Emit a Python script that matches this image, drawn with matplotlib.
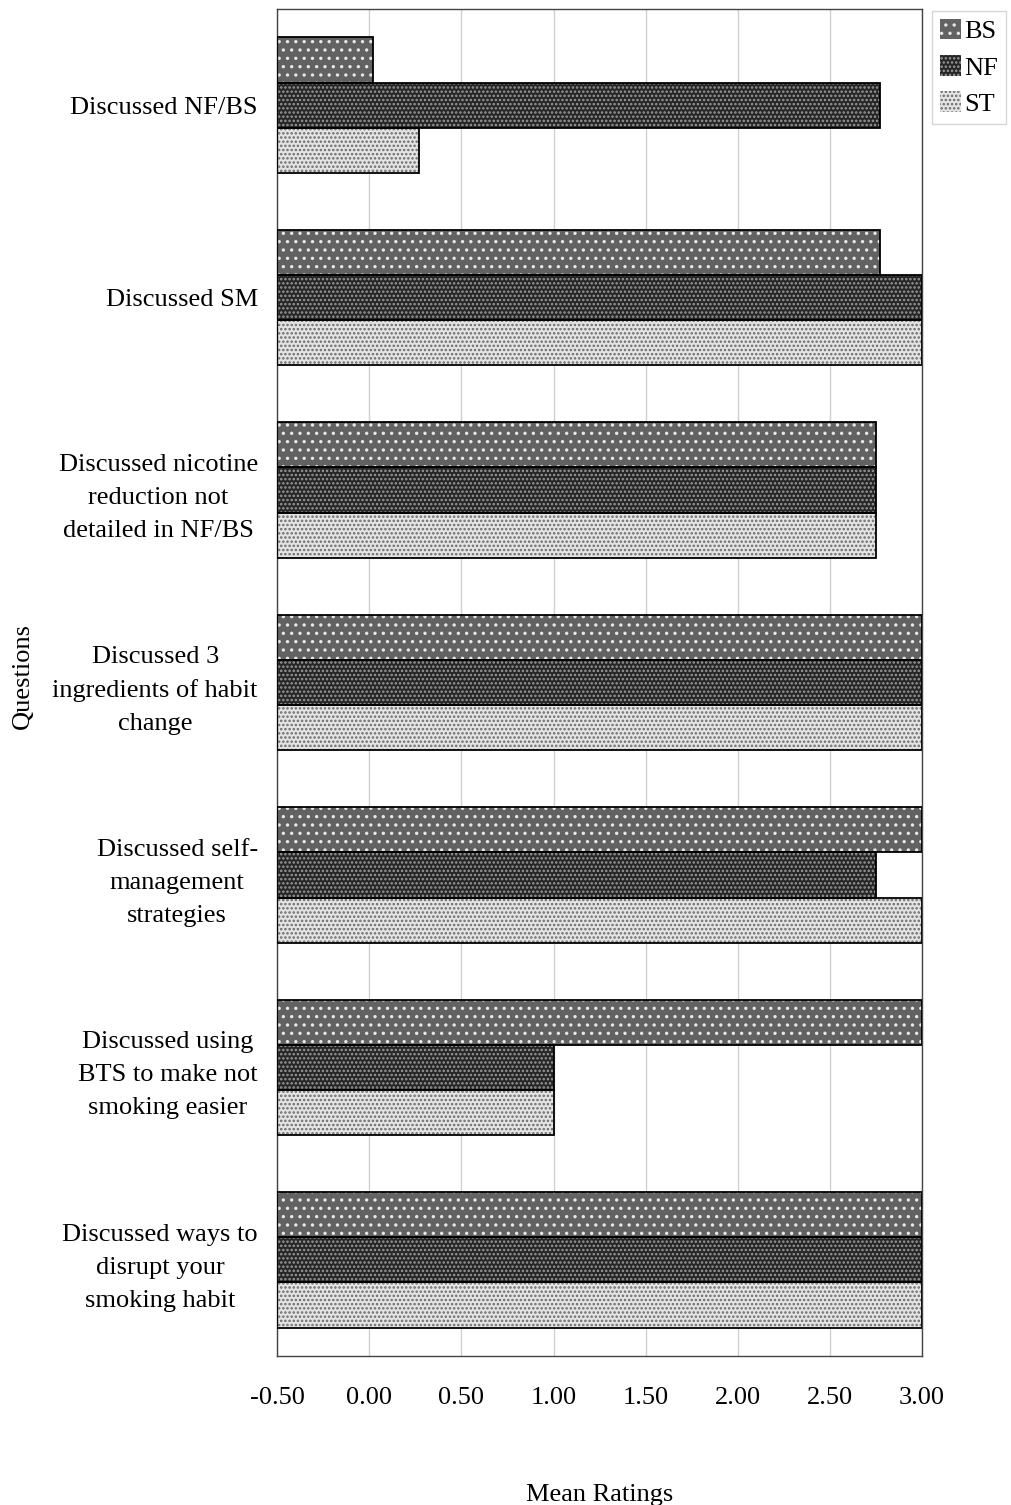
import numpy as np
import matplotlib
matplotlib.use("Agg")
import matplotlib.pyplot as plt

plt.rcParams['font.family'] = ['Liberation Serif', 'DejaVu Serif']
plt.rcParams['hatch.linewidth'] = 1.2

questions = [
    'Discussed NF/BS',
    'Discussed SM',
    'Discussed nicotine\nreduction not\ndetailed in NF/BS',
    'Discussed 3\ningredients of habit\nchange',
    'Discussed self-\nmanagement\nstrategies',
    'Discussed using\nBTS to make not\nsmoking easier',
    'Discussed ways to\ndisrupt your\nsmoking habit',
]
series = ['BS', 'NF', 'ST']
bs = [0.02, 2.77, 2.75, 3.00, 3.00, 3.00, 3.00]
nf = [2.77, 3.00, 2.75, 3.00, 2.75, 1.00, 3.00]
st = [0.27, 3.00, 2.75, 3.00, 3.00, 1.00, 3.00]
xticks = [-0.5, 0.0, 0.5, 1.0, 1.5, 2.0, 2.5, 3.0]

base = -0.5
styles = {
    'BS': dict(color='#626262', hatch='..', hcol='#e8e8e8'),
    'NF': dict(color='#262626', hatch='....', hcol='#9a9a9a'),
    'ST': dict(color='#e4e4e4', hatch='....', hcol='#6a6a6a'),
}

fig = plt.figure(figsize=(10.12, 15.05), dpi=100)
ax = fig.add_axes([0.274, 0.099, 0.637, 0.895])

y = np.arange(len(questions))
h = 0.235
handles = []
for i, (name, vals) in enumerate(zip(series, [bs, nf, st])):
    s = styles[name]
    widths = np.array(vals) - base
    pos = y + (i - 1) * h
    b = ax.barh(pos, widths, height=h, left=base, color=s['color'],
                edgecolor=s['hcol'], hatch=s['hatch'], linewidth=0, zorder=2)
    ax.barh(pos, widths, height=h, left=base, fill=False,
            edgecolor='black', linewidth=1.3, zorder=3)
    handles.append(b)

ax.set_xlim(-0.5, 3.0)
ax.set_ylim(len(questions) - 0.5, -0.5)
ax.set_xticks(xticks)
ax.set_xticklabels(['%.2f' % v for v in xticks], fontsize=19)
ax.set_yticks(y)
ax.set_yticklabels(questions, fontsize=19, multialignment='center',
                   linespacing=1.65)
ax.tick_params(length=0, pad=14)
ax.tick_params(axis='x', pad=22)
ax.xaxis.grid(True, color='#d0d0d0', linewidth=1, zorder=0)
ax.set_axisbelow(True)
for sp in ax.spines.values():
    sp.set_linewidth(1.0)
    sp.set_color('#444444')

ax.set_xlabel('Mean Ratings', fontsize=19, labelpad=54)
ax.set_ylabel('Questions', fontsize=19)
ax.yaxis.set_label_coords(-0.378, 0.505)

leg = fig.legend(handles, series, loc='upper right',
                 bbox_to_anchor=(0.999, 0.996), fontsize=19, frameon=True,
                 fancybox=False, edgecolor='#cccccc', handlelength=0.8,
                 handleheight=0.8, handletextpad=0.1, borderpad=0.3,
                 labelspacing=0.45, borderaxespad=0.2)

fig.savefig('out.png', dpi=100)
